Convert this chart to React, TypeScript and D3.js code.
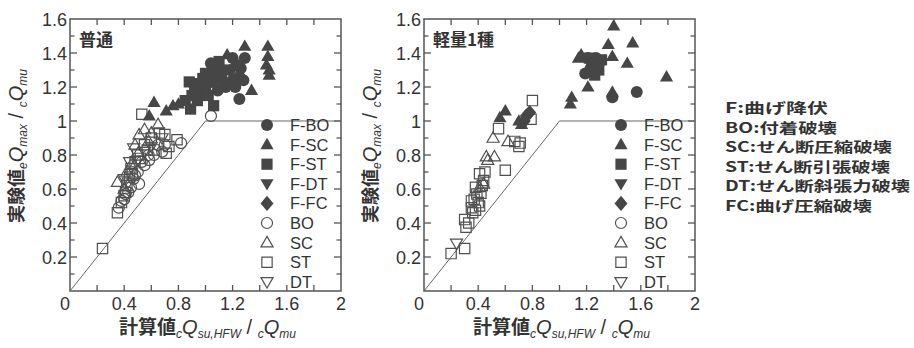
import React from "react";
import * as d3 from "d3";

type Pt = [number, number];

// ---------- axis / label data ----------
const xTicks = [0, 0.4, 0.8, 1.2, 1.6, 2];
const xMinor = [0.2, 0.6, 1.0, 1.4, 1.8];
const yTicks = [0.2, 0.4, 0.6, 0.8, 1, 1.2, 1.4, 1.6];
const yMinor = [0.1, 0.3, 0.5, 0.7, 0.9, 1.1, 1.3, 1.5];
const legendLabels = ["F-BO", "F-SC", "F-ST", "F-DT", "F-FC", "BO", "SC", "ST", "DT"];
const panelTitles = ["普通", "軽量1種"];
const noteLines = [
  "F:曲げ降伏",
  "BO:付着破壊",
  "SC:せん断圧縮破壊",
  "ST:せん断引張破壊",
  "DT:せん断斜張力破壊",
  "FC:曲げ圧縮破壊",
];
const noteWidths = [103, 112, 167, 165, 185, 147];
const refLine: Pt[] = [[0, 0], [1, 1], [2, 1]];

// ---------- 普通 (normal concrete) ----------
const nFBO: Pt[] = [
  [1.04, 1.34], [1.1, 1.3], [1.2, 1.37], [1.26, 1.31], [1.2, 1.24], [1.25, 1.13],
  [1.05, 1.23], [1.09, 1.18], [1.23, 1.33], [1.25, 1.26], [1.29, 1.37], [1.12, 1.25], [1.15, 1.2],
  [1.18, 1.3], [1.28, 1.24], [1.22, 1.2],
];
const nFSC: Pt[] = [
  [1.29, 1.44], [1.46, 1.44], [1.46, 1.38], [1.45, 1.33], [1.47, 1.3], [1.47, 1.27],
  [1.34, 1.18], [1.16, 1.39], [0.62, 1.11], [0.585, 1.03], [0.76, 1.09], [0.71, 1.06], [0.8, 1.1],
];
const nFST: Pt[] = [
  [0.88, 1.23], [0.89, 1.07], [0.96, 1.18], [1.05, 1.31], [1.08, 1.27], [0.94, 1.12], [1.0, 1.2],
  [1.1, 1.35], [1.02, 1.15], [0.85, 1.12], [1.13, 1.22], [0.98, 1.25], [0.92, 1.17], [1.06, 1.09],
  [0.9, 1.15], [1.0, 1.28], [1.12, 1.3], [0.95, 1.22],
];
const nFDT: Pt[] = [];
const nFFC: Pt[] = [];
const nBO: Pt[] = [
  [1.04, 1.03], [0.82, 0.87], [0.51, 0.63], [0.36, 0.49], [0.585, 0.77], [0.68, 0.82], [0.43, 0.58],
  [0.47, 0.66], [0.55, 0.74], [0.62, 0.8], [0.4, 0.54], [0.5, 0.7], [0.7, 0.86], [0.45, 0.61],
  [0.53, 0.76], [0.48, 0.68], [0.41, 0.57], [0.58, 0.8], [0.65, 0.86], [0.38, 0.53],
];
const nSC: Pt[] = [
  [0.35, 0.64], [0.51, 0.92], [0.48, 0.86], [0.42, 0.7], [0.55, 0.95], [0.65, 0.98], [0.4, 0.6],
  [0.58, 0.88], [0.45, 0.74], [0.6, 0.93],
];
const nST: Pt[] = [
  [0.24, 0.25], [0.35, 0.46], [0.53, 1.04], [0.7, 0.92], [0.79, 0.89], [0.71, 0.81], [0.45, 0.72],
  [0.48, 0.76], [0.42, 0.62], [0.4, 0.56], [0.5, 0.8], [0.55, 0.86], [0.6, 0.9], [0.38, 0.52],
  [0.44, 0.67], [0.62, 0.83], [0.73, 0.85], [0.46, 0.69], [0.52, 0.78], [0.57, 0.83], [0.41, 0.58],
  [0.66, 0.93],
];
const nDT: Pt[] = [
  [0.68, 0.9], [0.47, 0.84], [0.4, 0.66], [0.55, 0.82], [0.44, 0.76], [0.6, 0.85], [0.5, 0.77], [0.43, 0.64],
];

// ---------- 軽量1種 (lightweight type 1) ----------
const lFBO: Pt[] = [
  [1.19, 1.28], [1.21, 1.37], [1.27, 1.37], [1.39, 1.14], [1.57, 1.17], [1.23, 1.31], [1.3, 1.35],
];
const lFSC: Pt[] = [
  [1.4, 1.56], [1.36, 1.45], [1.54, 1.46], [1.39, 1.38], [1.5, 1.34], [1.79, 1.26], [1.21, 1.2],
  [1.09, 1.14], [1.08, 1.1], [1.16, 1.39], [1.14, 1.37], [1.39, 1.17], [0.6, 1.06], [0.56, 1.02],
  [0.72, 0.98], [0.7, 1.0],
];
const lFST: Pt[] = [[1.24, 1.34], [1.29, 1.3], [1.26, 1.27], [1.31, 1.36], [1.22, 1.37]];
const lFDT: Pt[] = [[0.73, 0.99]];
const lFFC: Pt[] = [[0.755, 1.03], [0.78, 1.05], [0.74, 1.0]];
const lBO: Pt[] = [];
const lSC: Pt[] = [
  [0.51, 0.9], [0.62, 0.88], [0.46, 0.79], [0.52, 0.79], [0.41, 0.61], [0.44, 0.63], [0.47, 0.77],
];
const lST: Pt[] = [
  [0.8, 1.12], [0.79, 1.01], [0.55, 0.955], [0.67, 0.88], [0.7, 0.85], [0.71, 0.87], [0.6, 0.71],
  [0.41, 0.69], [0.44, 0.65], [0.38, 0.61], [0.42, 0.575], [0.35, 0.53], [0.35, 0.49], [0.38, 0.475],
  [0.41, 0.5], [0.3, 0.42], [0.31, 0.375], [0.2, 0.22], [0.3, 0.25], [0.37, 0.54], [0.36, 0.46],
  [0.43, 0.62], [0.39, 0.57], [0.45, 0.7], [0.4, 0.52], [0.33, 0.4],
];
const lDT: Pt[] = [[0.24, 0.28]];

type Shape = "circle" | "tri" | "square" | "dtri" | "diamond";
const seriesShapes: Shape[] = ["circle", "tri", "square", "dtri", "diamond", "circle", "tri", "square", "dtri"];
const seriesFilled = [true, true, true, true, true, false, false, false, false];
const panelData: Pt[][][] = [
  [nFBO, nFSC, nFST, nFDT, nFFC, nBO, nSC, nST, nDT],
  [lFBO, lFSC, lFST, lFDT, lFFC, lBO, lSC, lST, lDT],
];

const FILL = "#464646";
const STROKE = "#505050";
const TEXT = "#333";
const LATIN = "'Liberation Sans', Arial, sans-serif";
const CJK = "'Noto Sans CJK JP', 'Noto Sans', sans-serif";

function symbolPath(shape: Shape, filled: boolean): string {
  const p = d3.path();
  const k = filled ? 1 : 0.92;
  if (shape === "circle") {
    const r = 6 * k;
    p.moveTo(r, 0);
    p.arc(0, 0, r, 0, Math.PI * 2);
  } else if (shape === "tri") {
    const h = 6.6 * k;
    p.moveTo(0, -6.8 * k);
    p.lineTo(h, 4.6 * k);
    p.lineTo(-h, 4.6 * k);
    p.closePath();
  } else if (shape === "dtri") {
    const h = 6.6 * k;
    p.moveTo(0, 6.8 * k);
    p.lineTo(h, -4.6 * k);
    p.lineTo(-h, -4.6 * k);
    p.closePath();
  } else if (shape === "square") {
    const s = 5.6 * k;
    p.rect(-s, -s, 2 * s, 2 * s);
  } else {
    const w = 6.5 * k, h = 7.6 * k;
    p.moveTo(0, -h);
    p.lineTo(w, 0);
    p.lineTo(0, h);
    p.lineTo(-w, 0);
    p.closePath();
  }
  return p.toString();
}

function Marker({ shape, filled, x, y }: { shape: Shape; filled: boolean; x: number; y: number }) {
  return (
    <path
      d={symbolPath(shape, filled)}
      transform={`translate(${x},${y})`}
      fill={filled ? FILL : "none"}
      stroke={filled ? "none" : STROKE}
      strokeWidth={filled ? 0 : 1.2}
    />
  );
}

const fmt = (v: number) => String(+v.toFixed(1));

function Panel({ idx, x0, x1 }: { idx: number; x0: number; x1: number }) {
  const yTop = 19, yBot = 291;
  const x = d3.scaleLinear().domain([0, 2]).range([x0, x1]);
  const y = d3.scaleLinear().domain([0, 1.6]).range([yBot, yTop]);
  const line = d3.line<Pt>().x((d) => x(d[0])).y((d) => y(d[1]));
  const data = panelData[idx];
  const cx = (x0 + x1) / 2 + 2;
  const lgX = x0 + 197;
  const lgTx = x0 + 220;
  return (
    <g>
      {/* frame */}
      <rect x={x0} y={yTop} width={x1 - x0} height={yBot - yTop} fill="none" stroke="#555" strokeWidth={1.5} />
      {/* x ticks bottom & top */}
      {[...xTicks.slice(1, -1), ...xMinor].map((t, i) => (
        <g key={"xt" + i}>
          <line x1={x(t)} x2={x(t)} y1={yBot} y2={yBot - 6} stroke="#555" strokeWidth={1.3} />
          <line x1={x(t)} x2={x(t)} y1={yTop} y2={yTop + 6} stroke="#555" strokeWidth={1.3} />
        </g>
      ))}
      {/* y ticks left & right */}
      {yTicks.slice(0, -1).map((t, i) => (
        <g key={"yt" + i}>
          <line x1={x0} x2={x0 + 7} y1={y(t)} y2={y(t)} stroke="#555" strokeWidth={1.3} />
          <line x1={x1} x2={x1 - 7} y1={y(t)} y2={y(t)} stroke="#555" strokeWidth={1.3} />
        </g>
      ))}
      {yMinor.map((t, i) => (
        <g key={"ym" + i}>
          <line x1={x0} x2={x0 + 4.5} y1={y(t)} y2={y(t)} stroke="#555" strokeWidth={1.3} />
          <line x1={x1} x2={x1 - 4.5} y1={y(t)} y2={y(t)} stroke="#555" strokeWidth={1.3} />
        </g>
      ))}
      {/* tick labels */}
      {xTicks.map((t, i) => (
        <text key={"xl" + i} x={x(t) + (t === 0 ? -5 : 0)} y={310} textAnchor="middle"
          fontFamily={LATIN} fontSize={18} fill={TEXT}>{fmt(t)}</text>
      ))}
      {yTicks.map((t, i) => (
        <text key={"yl" + i} x={x0 - 3} y={y(t) + 6.5} textAnchor="end"
          fontFamily={LATIN} fontSize={18} fill={TEXT}>{fmt(t)}</text>
      ))}
      {/* reference line */}
      <path d={line(refLine) || ""} fill="none" stroke="#666" strokeWidth={1} />
      {/* open markers then filled */}
      {[5, 6, 7, 8, 0, 1, 2, 3, 4].map((s) =>
        data[s].map((d, j) => (
          <Marker key={`m${s}-${j}`} shape={seriesShapes[s]} filled={seriesFilled[s]} x={x(d[0])} y={y(d[1])} />
        ))
      )}
      {/* legend */}
      {legendLabels.map((lab, i) => {
        const ly = 125 + i * 19.6;
        return (
          <g key={"lg" + i}>
            <Marker shape={seriesShapes[i]} filled={seriesFilled[i]} x={lgX} y={ly} />
            <text x={lgTx} y={ly + 6} fontFamily={LATIN} fontSize={16.5} fill={TEXT}>{lab}</text>
          </g>
        );
      })}
      {/* panel title */}
      <text x={x0 + 9} y={46} fontFamily={CJK} fontWeight={700} fontSize={17} fill={TEXT}>{panelTitles[idx]}</text>
      {/* x axis title */}
      <text x={cx} y={334} textAnchor="middle" fill={TEXT} fontFamily={LATIN} fontSize={12}>
        <tspan fontFamily={CJK} fontWeight={700} fontSize={19}>計算値</tspan>
        <tspan fontStyle="italic" fontSize={12} dy={4}>c</tspan>
        <tspan fontStyle="italic" fontSize={20} dy={-4}>Q</tspan>
        <tspan fontStyle="italic" fontSize={12} dy={4}>su,HFW</tspan>
        <tspan fontSize={20} dy={-4}> / </tspan>
        <tspan fontStyle="italic" fontSize={12} dy={4}>c</tspan>
        <tspan fontStyle="italic" fontSize={20} dy={-4}>Q</tspan>
        <tspan fontStyle="italic" fontSize={12} dy={4}>mu</tspan>
      </text>
      {/* y axis title */}
      <text transform={`translate(${x0 - 47},146) rotate(-90)`} textAnchor="middle" fill={TEXT}
        fontFamily={LATIN} fontSize={12}>
        <tspan fontFamily={CJK} fontWeight={700} fontSize={18}>実験値</tspan>
        <tspan fontStyle="italic" fontSize={12} dy={4}>e</tspan>
        <tspan fontStyle="italic" fontSize={20} dy={-4}>Q</tspan>
        <tspan fontStyle="italic" fontSize={12} dy={4}>max</tspan>
        <tspan fontSize={20} dy={-4}> / </tspan>
        <tspan fontStyle="italic" fontSize={12} dy={4}>c</tspan>
        <tspan fontStyle="italic" fontSize={20} dy={-4}>Q</tspan>
        <tspan fontStyle="italic" fontSize={12} dy={4}>mu</tspan>
      </text>
    </g>
  );
}

export default function App() {
  return (
    <svg width={914} height={348} viewBox="0 0 914 348"
      style={{ position: "absolute", left: 0, top: 0, background: "#fff" }}>
      <rect width={914} height={348} fill="#fff" />
      <Panel idx={0} x0={70} x1={341} />
      <Panel idx={1} x0={424} x1={695} />
      {noteLines.map((t, i) => (
        <text key={"n" + i} x={725} y={113 + i * 19.5} fontFamily={CJK} fontSize={14}
          fontWeight={700} fill={TEXT} textLength={noteWidths[i]} lengthAdjust="spacingAndGlyphs">{t}</text>
      ))}
    </svg>
  );
}
